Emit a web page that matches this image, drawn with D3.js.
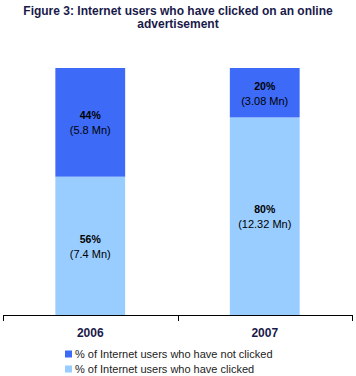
<!DOCTYPE html>
<html><head><meta charset="utf-8">
<script src="https://cdn.jsdelivr.net/npm/d3@7"></script>
<style>body{margin:0;background:#fff}svg{display:block}</style>
</head><body>
<script>
const years = ["2006", "2007"];
const clickedPct = [56, 80];
const notClickedPct = [44, 20];
const clickedMn = ["7.4", "12.32"];
const notClickedMn = ["5.8", "3.08"];
const seriesNames = ["% of Internet users who have not clicked", "% of Internet users who have clicked"];
const titleLines = ["Figure 3: Internet users who have clicked on an online", "advertisement"];

const W = 356, H = 376;
const svg = d3.select("body").append("svg").attr("width", W).attr("height", H);
const font = "Liberation Sans, Arial, sans-serif";
const navy = "#1a1a4a";
const darkBlue = "#3d6bf7", lightBlue = "#99ccff";

svg.append("text").attr("text-anchor", "middle")
  .attr("font-family", font).attr("font-weight", "bold").attr("font-size", 12).attr("fill", navy)
  .selectAll("tspan").data(titleLines).join("tspan")
  .attr("x", 178).attr("y", (d, i) => 15 + i * 12.5).text(d => d);

const x = d3.scaleBand().domain(years).range([3, 352]).paddingInner(0.6).paddingOuter(0.3);
const y = d3.scaleLinear().domain([0, 100]).range([315, 68]);

const rows = years.map((yr, i) => ({yr, c: clickedPct[i], n: notClickedPct[i], cm: clickedMn[i], nm: notClickedMn[i]}));

const g = svg.append("g");
g.selectAll(".c").data(rows).join("rect")
  .attr("x", d => x(d.yr)).attr("width", x.bandwidth())
  .attr("y", d => y(d.c)).attr("height", d => y(0) - y(d.c)).attr("fill", lightBlue);
g.selectAll(".n").data(rows).join("rect")
  .attr("x", d => x(d.yr)).attr("width", x.bandwidth())
  .attr("y", d => y(d.c + d.n)).attr("height", d => y(d.c) - y(d.c + d.n)).attr("fill", darkBlue);

function label(cx, cy, pct, mn) {
  svg.append("text").attr("x", cx).attr("y", cy - 3).attr("text-anchor", "middle")
    .attr("font-family", font).attr("font-weight", "bold").attr("font-size", 10.5).attr("fill", "#000").text(pct + "%");
  svg.append("text").attr("x", cx).attr("y", cy + 12).attr("text-anchor", "middle")
    .attr("font-family", font).attr("font-size", 11).attr("fill", "#000").text("(" + mn + " Mn)");
}
rows.forEach(d => {
  const cx = x(d.yr) + x.bandwidth() / 2;
  label(cx, (y(0) + y(d.c)) / 2, d.c, d.cm);
  label(cx, (y(d.c) + y(d.c + d.n)) / 2, d.n, d.nm);
});

const ax = svg.append("g").attr("transform", "translate(0,315)");
ax.append("line").attr("x1", 3).attr("x2", 352).attr("y1", 0.5).attr("y2", 0.5).attr("stroke", "#000");
const bounds = [3, (x(years[0]) + x.bandwidth() + x(years[1])) / 2, 352];
ax.selectAll(".tk").data(bounds).join("line")
  .attr("x1", d => Math.round(d) + 0.5).attr("x2", d => Math.round(d) + 0.5).attr("y1", 0).attr("y2", 6).attr("stroke", "#000");
ax.selectAll(".yl").data(years).join("text")
  .attr("x", d => x(d) + x.bandwidth() / 2).attr("y", 22).attr("text-anchor", "middle")
  .attr("font-family", font).attr("font-weight", "bold").attr("font-size", 12).attr("fill", navy).text(d => d);

const leg = svg.append("g").attr("transform", "translate(65,0)");
const legColors = [darkBlue, lightBlue];
seriesNames.forEach((s, i) => {
  const cy = 354 + i * 15;
  leg.append("rect").attr("x", 0).attr("y", cy - 3.5).attr("width", 7).attr("height", 7).attr("fill", legColors[i]);
  leg.append("text").attr("x", 10).attr("y", cy + 4).attr("font-family", font).attr("font-size", 11).attr("fill", "#222").text(s);
});
</script>
</body></html>
